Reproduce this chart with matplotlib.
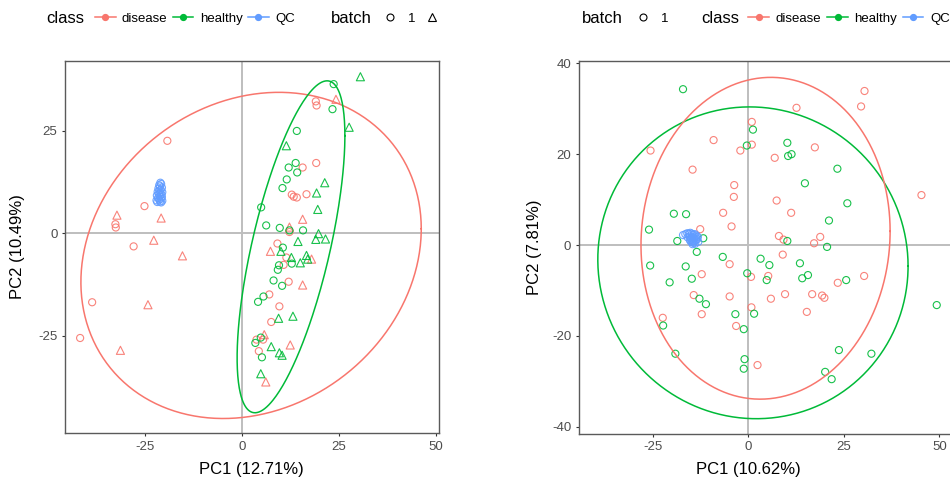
import numpy as np
import matplotlib
matplotlib.use("Agg")
import matplotlib.pyplot as plt
from matplotlib.lines import Line2D

plt.rcParams['font.family'] = ['Liberation Sans', 'DejaVu Sans']

# ---------------- data: left panel ----------------
L_dis_b1_x = [-19.2, -25.1, -32.6, -32.5, -27.9, -38.6, -41.7, 19.1, 19.3, 19.2, 15.7, 12.9, 13.4, 14.2, 16.7,
              12.3, 9.2, 11.5, 10.8, 12.1, 7.1, 9.7, 7.6, 3.8, 5.5, 4.4]
L_dis_b1_y = [22.5, 6.6, 2.2, 1.4, -3.2, -16.8, -25.5, 32.1, 31.1, 17.1, 16.0, 9.4, 8.9, 8.7, 9.5,
              0.3, -2.5, -5.9, -7.7, -11.8, -14.9, -17.8, -21.6, -25.9, -25.9, -28.7]
L_dis_b2_x = [-32.2, -20.8, -22.7, -15.3, -24.2, -31.3, 24.3, 15.7, 12.3, 7.4, 18.0, 15.7, 5.8, 12.5, 6.2]
L_dis_b2_y = [4.4, 3.7, -1.7, -5.5, -17.4, -28.5, 32.6, 3.4, 1.5, -4.4, -6.3, -12.6, -24.7, -27.2, -36.2]
L_hea_b1_x = [23.7, 23.4, 14.2, 12.1, 13.9, 14.3, 11.6, 10.5, 5.0, 6.3, 9.8, 12.3, 15.8, 10.6, 12.9, 9.6,
              9.3, 8.2, 10.4, 5.6, 4.2, 4.9, 3.5, 5.2]
L_hea_b1_y = [36.3, 30.2, 24.9, 16.0, 17.1, 14.8, 13.1, 11.0, 6.3, 1.9, 1.3, 0.7, 0.7, -3.5, -7.4, -7.8,
              -8.9, -11.5, -12.8, -15.4, -16.7, -25.4, -26.7, -30.2]
L_hea_b2_x = [30.6, 27.7, 11.5, 21.4, 19.3, 19.6, 19.8, 19.1, 21.6, 14.5, 10.1, 12.8, 16.7, 17.0, 15.1,
              9.5, 13.2, 7.6, 9.7, 10.4, 4.9]
L_hea_b2_y = [38.1, 25.8, 21.3, 12.3, 9.8, 5.8, -0.1, -1.5, -1.4, -2.0, -4.4, -5.9, -5.4, -6.3, -7.2,
              -20.7, -20.2, -27.6, -29.1, -29.7, -34.2]
L_qc_x = [-21.0, -20.8, -21.3, -21.1, -20.6, -21.5, -20.9, -21.2, -21.7, -20.5, -21.0, -21.4, -20.7, -21.9,
          -21.2, -20.6, -21.6, -20.9, -21.3, -22.0, -20.5, -21.1, -21.8, -20.8]
L_qc_y = [12.3, 12.0, 11.7, 11.4, 11.1, 10.9, 10.6, 10.4, 10.1, 10.0, 9.8, 9.6, 9.4, 9.2,
          9.0, 8.8, 8.6, 8.4, 8.2, 8.0, 7.9, 7.7, 7.6, 7.5]
# ellipse parameters: centre x, centre y, sd-x, sd-y, covariance term
L_ell_dis = [2.4, -5.4, 43.9, 39.7, 285.0]
L_ell_hea = [12.7, -3.3, 13.9, 40.4, 376.0]

# ---------------- data: right panel ----------------
R_hea_x = [-17.1, -0.4, -26.0, -19.5, -16.3, -18.6, -11.8, -13.5, -25.7, -16.4, -6.7, -14.8, -20.6, -12.8,
           -11.1, -0.3, -3.4, -1.2, -22.3, -19.1, -1.0, -1.2, 1.2, 10.2, 10.4, 11.3, 23.3, 14.8, 25.9, 21.1,
           10.2, 20.6, 3.2, 5.5, 4.8, 13.5, 14.1, 15.6, 25.6, 1.5, 49.3, 23.7, 32.2, 20.1, 21.8]
R_hea_y = [34.3, 21.9, 3.4, 6.9, 6.8, 0.9, 1.5, -1.5, -4.5, -4.7, -2.6, -7.4, -8.2, -11.8,
           -13.0, -6.2, -15.2, -18.5, -17.7, -23.9, -25.1, -27.2, 25.4, 22.5, 19.6, 20.0, 16.8, 13.6, 9.2, 5.4,
           0.9, -0.4, -3.0, -4.4, -7.7, -4.0, -7.3, -6.6, -7.7, -15.1, -13.2, -23.1, -23.9, -27.9, -29.5]
R_dis_x = [-25.6, -9.1, -2.1, -14.6, -3.7, -3.8, -6.6, -4.4, -12.6, -4.9, -12.2, -14.3, -4.9, -12.2, -3.2,
           -22.4, 0.9, 0.9, 12.6, 30.4, 29.5, 17.4, 6.9, 7.4, 11.2, 45.3, 8.0, 9.2, 17.2, 18.8, 9.0, 0.7, 5.2,
           30.3, 23.4, 5.9, 9.6, 16.7, 19.3, 19.9, 15.3, 0.8, 2.4]
R_dis_y = [20.8, 23.1, 20.8, 16.6, 13.2, 10.6, 7.1, 4.1, 3.5, -4.2, -6.4, -11.0, -11.3, -15.2, -17.8,
           -16.0, 27.1, 22.1, 30.2, 33.9, 30.5, 21.5, 19.2, 9.8, 7.1, 11.0, 2.0, 1.2, 0.4, 1.8, -2.1, -7.0, -6.8,
           -6.8, -8.3, -11.8, -10.8, -10.8, -11.1, -11.6, -14.7, -13.7, -26.4]
R_qc_x = [-17.1, -16.5, -16.0, -15.6, -15.2, -14.8, -14.4, -14.0, -13.6, -13.2, -15.9, -15.4, -15.0, -14.6,
          -14.2, -13.8, -13.4, -15.3, -14.9, -14.5, -14.1, -13.7, -14.7, -14.3, -15.1, -13.9, -14.6, -13.1]
R_qc_y = [2.2, 2.4, 2.6, 2.5, 2.7, 2.5, 2.3, 2.4, 2.1, 1.8, 1.7, 1.9, 1.6, 1.8,
          1.5, 1.7, 1.3, 1.1, 1.2, 1.0, 0.9, 1.1, 0.6, 0.5, 0.8, 0.3, 0.2, 0.7]
R_ell_hea = [1.2, -3.9, 40.6, 34.3, -30.0]
R_ell_dis = [4.5, 1.5, 32.6, 35.4, 50.0]

# ---------------- labels ----------------
L_xlabel, L_ylabel = "PC1 (12.71%)", "PC2 (10.49%)"
R_xlabel, R_ylabel = "PC1 (10.62%)", "PC2 (7.81%)"
L_xticks, L_yticks = [-25, 0, 25, 50], [-25, 0, 25]
R_xticks, R_yticks = [-25, 0, 25, 50], [-40, -20, 0, 20, 40]
class_names = ["disease", "healthy", "QC"]
batch_names = ["1", ""]

RED, GREEN, BLUE = "#F8766D", "#00BA38", "#619CFF"

W, H = 950, 480
fig = plt.figure(figsize=(W / 100, H / 100), dpi=100)


def fx(px):
    return px / W


def fy(py):
    return 1 - py / H


def make_ax(left, top, right, bottom):
    return fig.add_axes([fx(left), fy(bottom), (right - left) / W, (bottom - top) / H])


def style(ax, xlim, ylim, xticks, yticks):
    ax.set_xlim(*xlim)
    ax.set_ylim(*ylim)
    ax.set_xticks(xticks)
    ax.set_yticks(yticks)
    ax.set_xticklabels([str(t) for t in xticks])
    ax.set_yticklabels([str(t) for t in yticks])
    for s in ax.spines.values():
        s.set_color("#5A5A5A")
        s.set_linewidth(1.0)
    ax.tick_params(length=2.4, width=0.8, color="#333333", labelsize=9.5,
                   labelcolor="#4D4D4D", pad=3)
    ax.axhline(0, color="#BEBEBE", lw=1.4, zorder=0.5)
    ax.axvline(0, color="#BEBEBE", lw=1.4, zorder=0.5)


def ellipse(ax, p, color):
    cx, cy, sx, sy, c = p
    t = np.linspace(0, 2 * np.pi, 300)
    a21 = c / sx
    a22 = np.sqrt(sy ** 2 - a21 ** 2)
    ax.plot(cx + sx * np.cos(t), cy + a21 * np.cos(t) + a22 * np.sin(t), color=color, lw=1.1, zorder=3)


def pts(ax, x, y, color, marker):
    s = 26 if marker == "o" else 34
    ax.scatter(x, y, s=s, marker=marker, facecolors="none", edgecolors=color, linewidths=0.8,
               alpha=0.9, zorder=2)


# ---------------- left panel ----------------
axL = make_ax(65, 60.7, 438.7, 433.3)
style(axL, (-45.6, 50.8), (-48.7, 42.0), L_xticks, L_yticks)
pts(axL, L_dis_b1_x, L_dis_b1_y, RED, "o")
pts(axL, L_dis_b2_x, L_dis_b2_y, RED, "^")
pts(axL, L_hea_b1_x, L_hea_b1_y, GREEN, "o")
pts(axL, L_hea_b2_x, L_hea_b2_y, GREEN, "^")
pts(axL, L_qc_x, L_qc_y, BLUE, "o")
ellipse(axL, L_ell_dis, RED)
ellipse(axL, L_ell_hea, GREEN)
axL.set_xlabel(L_xlabel, fontsize=12, va="center")
axL.xaxis.set_label_coords(0.5, (433.3 - 469.5) / 372.6)
axL.set_ylabel(L_ylabel, fontsize=12, va="center")
axL.yaxis.set_label_coords((17.5 - 65) / 373.7, 0.5)

# ---------------- right panel ----------------
axR = make_ax(578.7, 61, 952.4, 433.7)
style(axR, (-44.4, 53.4), (-41.5, 40.5), R_xticks, R_yticks)
pts(axR, R_dis_x, R_dis_y, RED, "o")
pts(axR, R_hea_x, R_hea_y, GREEN, "o")
pts(axR, R_qc_x, R_qc_y, BLUE, "o")
ellipse(axR, R_ell_hea, GREEN)
ellipse(axR, R_ell_dis, RED)
axR.set_xlabel(R_xlabel, fontsize=12, va="center")
axR.xaxis.set_label_coords((748 - 578.7) / 373.7, (433.7 - 469.5) / 372.7)
axR.set_ylabel(R_ylabel, fontsize=12, va="center")
axR.yaxis.set_label_coords((535 - 578.7) / 373.7, 0.5)

# ---------------- legends (top) ----------------
LEG_Y = 17.3
colors = [RED, GREEN, BLUE]


def legend_title(px, text):
    fig.text(fx(px), fy(LEG_Y), text, fontsize=12, ha="left", va="center_baseline", color="black")


def legend_label(px, text):
    fig.text(fx(px), fy(LEG_Y), text, fontsize=9.5, ha="left", va="center_baseline", color="black")


def class_key(x0, color):
    fig.add_artist(Line2D([fx(x0), fx(x0 + 20.5)], [fy(LEG_Y), fy(LEG_Y)], color=color, lw=1.1,
                          transform=fig.transFigure))
    fig.add_artist(Line2D([fx(x0 + 10.25)], [fy(LEG_Y)], color=color, marker="o", markersize=4.2,
                          linestyle="none", transform=fig.transFigure))


def batch_key(xc, marker):
    fig.add_artist(Line2D([fx(xc)], [fy(LEG_Y)], color="black", marker=marker,
                          markersize=5.0 if marker == "o" else 6.0, markerfacecolor="none",
                          markeredgewidth=0.8, linestyle="none", transform=fig.transFigure))


# left legend
legend_title(46.7, "class")
for x0, col, name, lx in zip([95, 172.7, 248], colors, class_names, [121.7, 200, 275.3]):
    class_key(x0, col)
    legend_label(lx, name)
legend_title(331, "batch")
batch_key(390, "o")
legend_label(408, batch_names[0])
batch_key(431.5, "^")

# right legend
legend_title(581.7, "batch")
batch_key(642.7, "o")
legend_label(660.7, batch_names[0])
legend_title(701.7, "class")
for x0, col, name, lx in zip([748.3, 827.3, 902.7], colors, class_names, [775, 854.3, 930]):
    class_key(x0, col)
    legend_label(lx, name)

fig.savefig("out.png", dpi=100)
